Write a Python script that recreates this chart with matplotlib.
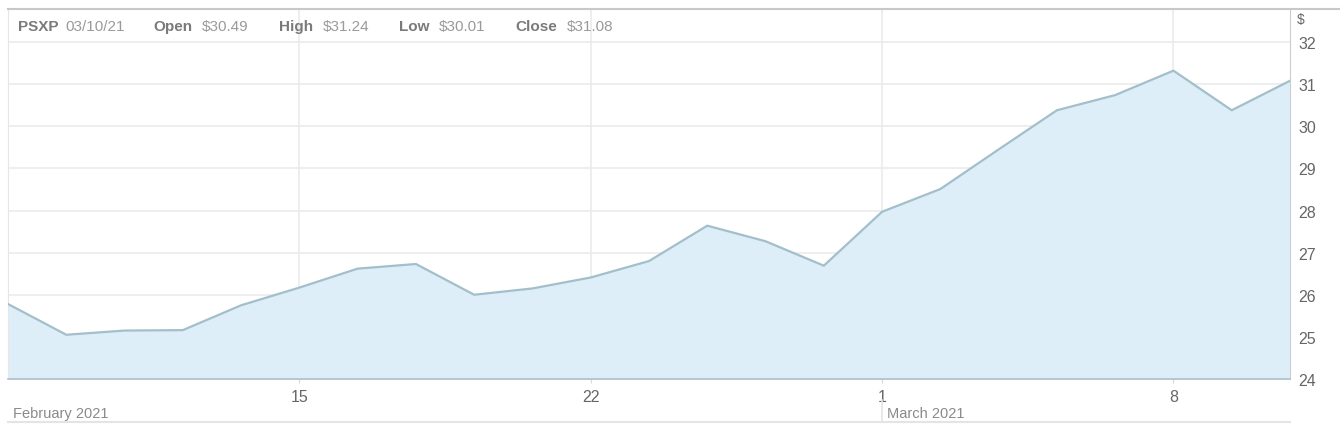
import matplotlib
matplotlib.use("Agg")
import matplotlib.pyplot as plt

plt.rcParams['font.family'] = ['Liberation Sans', 'DejaVu Sans']

# closing prices, one per trading day (Feb 8 .. Mar 10, 2021)
prices = [25.78, 25.05, 25.15, 25.16, 25.75, 26.17, 26.62, 26.73, 26.00, 26.15,
          26.41, 26.80, 27.64, 27.27, 26.69, 27.97, 28.51, 29.45, 30.38, 30.74,
          31.32, 30.38, 31.08]
tick_pos = [5, 10, 15, 20]
tick_labels = ['15', '22', '1', '8']
y_ticks = [24, 25, 26, 27, 28, 29, 30, 31, 32]
months = [(0, 'February 2021'), (15, 'March 2021')]
header = [('PSXP', '03/10/21'), ('Open', '$30.49'), ('High', '$31.24'),
          ('Low', '$30.01'), ('Close', '$31.08')]
header_x = [(18, 65), (153, 202), (279, 323), (399, 439), (515, 567)]

W, H = 1340, 431
fig = plt.figure(figsize=(W / 100, H / 100), dpi=100)
left, right, top, bottom = 8, 1290, 10, 380
ax = fig.add_axes([left / W, 1 - bottom / H, (right - left) / W, (bottom - top) / H])

x = list(range(len(prices)))
ax.fill_between(x, prices, 24, color='#DEEEF9', zorder=2)
ax.plot(x, prices, color='#A2BFCA', lw=1.6, zorder=3)

ax.set_xlim(0, len(prices) - 1)
ax.set_ylim(24, 32 + 33 / 42.1)

ax.set_xticks(tick_pos)
ax.set_xticklabels(tick_labels)
ax.set_yticks(y_ticks)
ax.yaxis.tick_right()
ax.tick_params(axis='y', length=0, pad=6, labelsize=11.5, labelcolor='#666666')
ax.tick_params(axis='x', length=3, color='#D8D8D8', pad=4, labelsize=11.5, labelcolor='#666666')
for lab in ax.get_yticklabels():
    lab.set_horizontalalignment('left')

ax.grid(True, color='#EBEBEB', lw=1.2, zorder=1)
ax.set_axisbelow(True)
ax.spines['top'].set_visible(False)
ax.spines['left'].set_color('#E6E6E6')
ax.spines['right'].set_color('#CCCCCC')
ax.spines['bottom'].set_color('#AFC0C8')
ax.spines['bottom'].set_linewidth(1.2)

# "$" unit above axis labels
fig.text(1297 / W, 1 - 20 / H, '$', fontsize=10, color='#666666', va='center', ha='left')

# top border
fig.add_artist(plt.Line2D([left / W, 1], [1 - top / H, 1 - top / H], color='#C8C8C8', lw=1.5))

# header
for (lab, val), (x1, x2) in zip(header, header_x):
    fig.text(x1 / W, 1 - 27 / H, lab, fontsize=11, fontweight='bold', color='#7A7A7A', va='center')
    fig.text(x2 / W, 1 - 27 / H, val, fontsize=11, color='#9A9A9A', va='center')

# month labels row
trans = ax.get_xaxis_transform()
ysep_top = (bottom - 401) / (bottom - top)
ysep_bot = (bottom - 423) / (bottom - top)
for pos, name in months:
    ax.text(pos + 0.08, (bottom - 414) / (bottom - top), name, transform=trans,
            fontsize=10.5, color='#8A8A8A', va='center', ha='left')
    if pos > 0:
        ax.plot([pos, pos], [ysep_top, ysep_bot], transform=trans, color='#E4E4E4',
                lw=1.2, clip_on=False)
ax.plot([0, len(prices) - 1], [ysep_bot, ysep_bot], transform=trans, color='#E4E4E4',
        lw=1.5, clip_on=False)

fig.savefig('out.png', dpi=100)
